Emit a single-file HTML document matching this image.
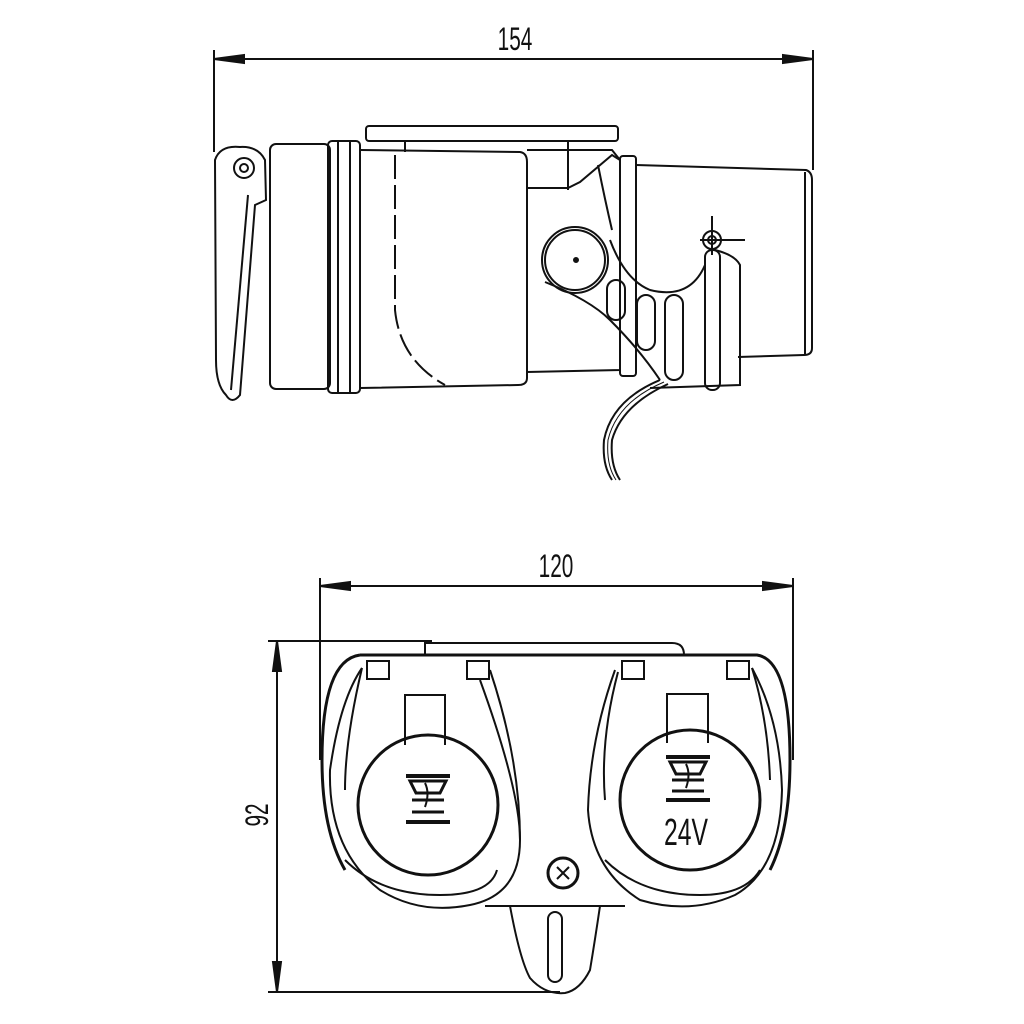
<!DOCTYPE html>
<html><head><style>html,body{margin:0;padding:0;background:#fff}svg{display:block}</style></head><body>
<svg width="1024" height="1024" viewBox="0 0 1024 1024" xmlns="http://www.w3.org/2000/svg" fill="none" stroke="#111" stroke-width="2">
<line x1="214" y1="50" x2="214" y2="152"/>
<line x1="813" y1="50" x2="813" y2="170"/>
<line x1="214" y1="59" x2="813" y2="59"/>
<path d="M214 59 L244 55 L244 63 Z M813 59 L783 55 L783 63 Z" fill="#111"/>
<text x="515" y="50" font-family="Liberation Sans, sans-serif" font-size="32" fill="#111" stroke="none" text-anchor="middle" transform="translate(515 0) scale(0.65 1) translate(-515 0)">154</text>

<rect x="366" y="126" width="252" height="15" rx="3"/>
<line x1="405" y1="141" x2="405" y2="152"/>
<line x1="568" y1="141" x2="568" y2="190"/>
<path d="M215 160 Q220 145 240 147 Q258 146 265 160 L266 200 L255 205 L240 395 Q232 405 226 395 Q216 385 216 360 Z"/>
<circle cx="244" cy="168" r="10"/>
<circle cx="244" cy="168" r="4"/>
<line x1="231" y1="390" x2="248" y2="195"/>
<rect x="270" y="144" width="60" height="245" rx="6"/>
<rect x="328" y="141" width="32" height="252" rx="4"/>
<line x1="338" y1="142" x2="338" y2="392"/>
<line x1="350" y1="142" x2="350" y2="392"/>
<path d="M360 150 L520 152 Q527 153 527 162 L527 378 Q527 385 518 385 L360 388"/>
<path d="M395 155 L395 310 Q400 360 445 385" stroke-dasharray="24 6"/>
<path d="M527 188 L568 188 L580 182 L612 155 L620 160 L620 370 L527 372"/>
<path d="M527 150 L612 150 L620 160"/>
<path d="M598 165 Q605 200 612 230"/>
<rect x="620" y="156" width="16" height="220" rx="3"/>
<path d="M636 165 L806 170 Q812 172 812 180 L812 348 Q812 355 804 355 L738 357"/>
<line x1="805" y1="172" x2="805" y2="354"/>
<circle cx="575" cy="260" r="33"/>
<circle cx="575" cy="260" r="30"/>
<circle cx="576" cy="260" r="2" fill="#111"/>
<path d="M545 282 Q590 300 610 320 Q640 350 660 380"/>
<path d="M610 240 Q625 280 650 290 Q690 300 705 265"/>
<circle cx="712" cy="240" r="9"/>
<circle cx="712" cy="240" r="4"/>
<line x1="712" y1="216" x2="712" y2="255"/>
<line x1="700" y1="240" x2="745" y2="240"/>
<path d="M715 250 Q735 255 740 265 L740 385 L650 388"/>
<rect x="705" y="250" width="15" height="140" rx="7"/>
<rect x="607" y="280" width="18" height="40" rx="9"/>
<rect x="637" y="295" width="18" height="55" rx="9"/>
<rect x="665" y="295" width="18" height="85" rx="9"/>
<path d="M660 380 Q612 400 604 440 Q602 465 612 480"/>
<path d="M668 384 Q622 405 612 440 Q610 465 620 480"/>
<path d="M664 382 Q617 402 608 440 Q606 465 616 480" stroke-width="1"/>

<line x1="320" y1="578" x2="320" y2="760"/>
<line x1="793" y1="578" x2="793" y2="760"/>
<line x1="320" y1="586" x2="793" y2="586"/>
<path d="M320 586 L350 582 L350 590 Z M793 586 L763 582 L763 590 Z" fill="#111"/>
<text x="556" y="577" font-family="Liberation Sans, sans-serif" font-size="32" fill="#111" stroke="none" text-anchor="middle" transform="translate(556 0) scale(0.65 1) translate(-556 0)">120</text>
<line x1="268" y1="641" x2="432" y2="641"/>
<line x1="268" y1="992" x2="560" y2="992"/>
<line x1="277" y1="641" x2="277" y2="992"/>
<path d="M277 641 L273 671 L281 671 Z M277 992 L273 962 L281 962 Z" fill="#111"/>
<text x="0" y="0" font-family="Liberation Sans, sans-serif" font-size="32" fill="#111" stroke="none" text-anchor="middle" transform="translate(268 815) rotate(-90) scale(0.65 1)">92</text>
<path d="M425 655 L425 643 L672 643 Q684 643 684 655"/>
<path d="M360 655 L757 655 Q790 660 790 760 Q790 830 770 870 M360 655 Q322 660 322 760 Q322 830 345 870" stroke-width="3"/>
<path d="M485 906 L625 906"/>
<g>
<rect x="367" y="661" width="22" height="18"/>
<rect x="467" y="661" width="22" height="18"/>
<path d="M362 668 Q340 700 330 770 Q328 850 380 890 Q420 915 470 905 Q520 895 520 840 Q520 790 480 680"/>
<path d="M362 668 Q345 740 345 790"/>
<path d="M490 670 Q520 760 520 840"/>
<path d="M345 860 Q380 895 440 895 Q490 895 497 870"/>
<circle cx="428" cy="805" r="70" stroke-width="3"/>
<path d="M405 745 L405 695 L445 695 L445 745"/>
<path d="M406 776 h44 M406 822 h44" stroke-width="4"/>
<path d="M410 781 h36 l-6 12 h-24 Z M412 800 h32 M412 812 h32" stroke-width="3"/>
<path d="M425 783 q5 10 0 24" stroke-width="2"/>
</g>
<g>
<rect x="622" y="661" width="22" height="18"/>
<rect x="727" y="661" width="22" height="18"/>
<path d="M615 670 Q590 740 588 810 Q592 870 640 900 Q690 915 735 895 Q780 870 782 790 Q780 720 752 668"/>
<path d="M752 668 Q768 720 770 780"/>
<path d="M618 672 Q600 740 605 800"/>
<path d="M605 860 Q640 895 700 895 Q745 895 760 870"/>
<circle cx="690" cy="800" r="70" stroke-width="3"/>
<path d="M667 743 L667 694 L708 694 L708 743"/>
<path d="M666 757 h44 M666 800 h44" stroke-width="4"/>
<path d="M670 762 h36 l-6 12 h-24 Z M672 780 h32 M672 791 h32" stroke-width="3"/>
<path d="M686 764 q5 10 0 24" stroke-width="2"/>
<text x="686" y="845" font-family="Liberation Sans, sans-serif" font-size="38" fill="#111" stroke="none" text-anchor="middle" transform="translate(686 0) scale(0.65 1) translate(-686 0)">24V</text>
</g>
<circle cx="563" cy="873" r="15" stroke-width="3"/>
<path d="M557 867 l12 12 M569 867 l-12 12" stroke-width="2"/>
<path d="M510 906 Q520 960 530 978 Q545 995 565 993 Q580 990 590 970 Q595 940 600 906"/>
<rect x="548" y="912" width="14" height="70" rx="7"/>
</svg>
</body></html>
